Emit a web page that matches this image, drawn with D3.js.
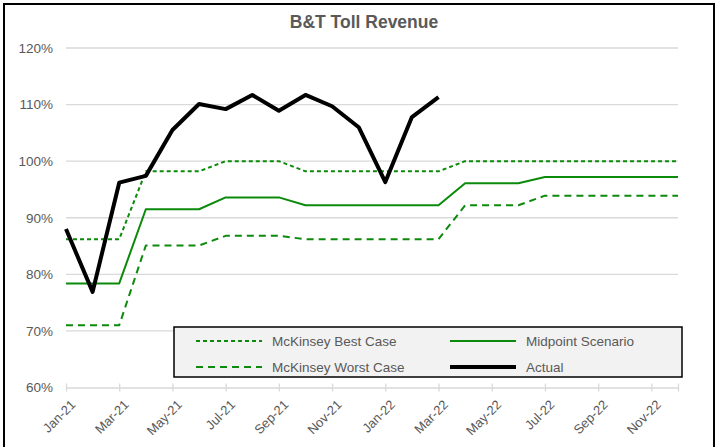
<!DOCTYPE html>
<html>
<head>
<meta charset="utf-8">
<script src="https://cdn.jsdelivr.net/npm/d3@7"></script>
<style>
  body { margin: 0; background: #fff; }
  text { font-family: "Liberation Sans", Arial, sans-serif; }
</style>
</head>
<body>
<script>
const SvgWidth = 716, SvgHeight = 447;

// months on the axis (Jan-21 .. Dec-22)
var months = ["Jan-21","Feb-21","Mar-21","Apr-21","May-21","Jun-21","Jul-21","Aug-21","Sep-21","Oct-21","Nov-21","Dec-21",
              "Jan-22","Feb-22","Mar-22","Apr-22","May-22","Jun-22","Jul-22","Aug-22","Sep-22","Oct-22","Nov-22","Dec-22"];
var bestCase  = [86.2,86.2,86.2,98.2,98.2,98.2,100,100,100,98.2,98.2,98.2,98.2,98.2,98.2,100,100,100,100,100,100,100,100,100];
var midpoint  = [78.4,78.4,78.4,91.5,91.5,91.5,93.6,93.6,93.6,92.2,92.2,92.2,92.2,92.2,92.2,96.1,96.1,96.1,97.2,97.2,97.2,97.2,97.2,97.2];
var worstCase = [71,71,71,85.1,85.1,85.1,86.8,86.8,86.8,86.2,86.2,86.2,86.2,86.2,86.2,92.2,92.2,92.2,93.9,93.9,93.9,93.9,93.9,93.9];
var actual    = [88,76.9,96.2,97.4,105.5,110.1,109.2,111.7,108.9,111.7,109.7,106,96.3,107.8,111.3];
var yTicks = [60,70,80,90,100,110,120];
var title = "B&T Toll Revenue";

var margin = {top: 48, left: 66, right: 38, bottom: 59.5};
var Width = SvgWidth - margin.left - margin.right;
var Height = SvgHeight - margin.top - margin.bottom;

var svg = d3.select('body').append('svg')
  .attr('width', SvgWidth).attr('height', SvgHeight)
  .style('background-color', 'white');

// chart border (bottom edge runs off the picture)
svg.append('rect')
  .attr('x', 4).attr('y', 4).attr('width', 710).attr('height', 460)
  .attr('fill', 'none').attr('stroke', '#000').attr('stroke-width', 2);

svg.append('text')
  .attr('x', 364).attr('y', 28)
  .attr('text-anchor', 'middle')
  .attr('font-size', 17.5).attr('font-weight', 'bold')
  .attr('fill', '#595959')
  .text(title);

var g = svg.append('g').attr('transform', 'translate(' + margin.left + ',' + margin.top + ')');

var x = d3.scalePoint().domain(months).range([0, Width]);
var y = d3.scaleLinear().domain([60, 120]).range([Height, 0]);

// gridlines
g.selectAll('.grid').data(yTicks.filter(function(d){ return d > 60; }))
  .enter().append('line')
  .attr('x1', 0).attr('x2', Width)
  .attr('y1', function(d){ return y(d); }).attr('y2', function(d){ return y(d); })
  .attr('stroke', '#d9d9d9').attr('stroke-width', 1.3);

// y labels
var yAxis = g.append('g')
  .call(d3.axisLeft(y).tickValues(yTicks).tickSize(0).tickPadding(13).tickFormat(function(d){ return d + '%'; }));
yAxis.select('.domain').remove();
yAxis.selectAll('text').attr('font-size', 13.5).attr('fill', '#595959').style('font-family', '"Liberation Sans", Arial, sans-serif');

// x axis
var xTickVals = months.filter(function(d, i){ return i % 2 === 0; }).concat([months[months.length - 1]]);
var xAxis = g.append('g')
  .attr('transform', 'translate(0,' + Height + ')')
  .call(d3.axisBottom(x).tickValues(xTickVals).tickSizeInner(4).tickSizeOuter(0)
        .tickFormat(function(d){ return d === months[months.length - 1] ? '' : d; }));
xAxis.select('.domain').attr('stroke', '#d9d9d9').attr('stroke-width', 1.3);
xAxis.selectAll('.tick line').attr('stroke', '#d9d9d9').attr('stroke-width', 1.3).attr('y1', -4).attr('y2', 4);
xAxis.selectAll('text')
  .attr('font-size', 13).attr('fill', '#595959')
  .style('font-family', '"Liberation Sans", Arial, sans-serif')
  .attr('text-anchor', 'end')
  .attr('dy', 0)
  .attr('transform', 'translate(5,13) rotate(-45)');

var green = '#0b8a0b';
var line = d3.line()
  .x(function(d, i){ return x(months[i]); })
  .y(function(d){ return y(d); });

var series = [
  {name: 'McKinsey Best Case', data: bestCase, color: green, width: 2, dash: '4,3'},
  {name: 'Midpoint Scenario', data: midpoint, color: green, width: 2, dash: null},
  {name: 'McKinsey Worst Case', data: worstCase, color: green, width: 2, dash: '7,5'},
  {name: 'Actual', data: actual, color: '#000', width: 4, dash: null}
];

series.forEach(function(s){
  g.append('path')
    .datum(s.data)
    .attr('fill', 'none')
    .attr('stroke', s.color)
    .attr('stroke-width', s.width)
    .attr('stroke-dasharray', s.dash)
    .attr('stroke-linejoin', 'round')
    .attr('d', line);
});

// legend
var legend = svg.append('g').attr('transform', 'translate(174,327)');
legend.append('rect')
  .attr('width', 508).attr('height', 50)
  .attr('fill', '#f2f2f2').attr('stroke', '#000').attr('stroke-width', 1.5);

var legendItems = [
  {s: series[0], col: 0, row: 0},
  {s: series[1], col: 1, row: 0},
  {s: series[2], col: 0, row: 1},
  {s: series[3], col: 1, row: 1}
];
legendItems.forEach(function(d){
  var lx = d.col === 0 ? 22 : 276;
  var ly = d.row === 0 ? 14 : 40;
  legend.append('line')
    .attr('x1', lx).attr('x2', lx + 66).attr('y1', ly).attr('y2', ly)
    .attr('stroke', d.s.color).attr('stroke-width', d.s.width)
    .attr('stroke-dasharray', d.s.dash);
  legend.append('text')
    .attr('x', lx + 76).attr('y', ly + 5)
    .attr('font-size', 13.5).attr('fill', '#595959')
    .text(d.s.name);
});
</script>
</body>
</html>
